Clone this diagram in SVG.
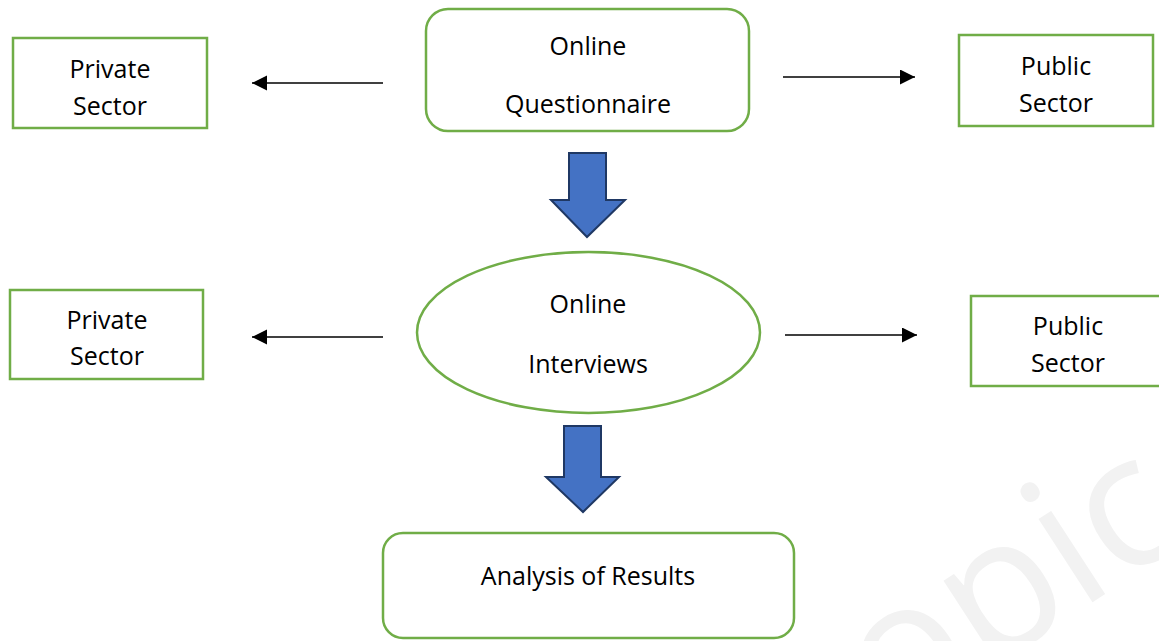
<svg xmlns="http://www.w3.org/2000/svg" width="1159" height="641" viewBox="0 0 1159 641">
<style>
.box{fill:#ffffff;stroke:#70ad47;stroke-width:2.5}
.lbl{font-family:"Open Sans","Liberation Sans",sans-serif;font-size:25px;fill:#000000;text-anchor:middle}
.conn{stroke:#000000;stroke-width:1.4;fill:none}
.big{fill:#4472c4;stroke:#1f3864;stroke-width:2;stroke-linejoin:miter}
.wm{font-family:"Open Sans","Liberation Sans",sans-serif;font-size:185px;fill:#f2f2f2}
</style>
<defs>
<marker id="ah" markerUnits="userSpaceOnUse" markerWidth="16" markerHeight="16" refX="15" refY="7.5" orient="auto">
<path d="M0,0 L15,7.5 L0,15 Z" fill="#000000"/>
</marker>
</defs>
<rect width="1159" height="641" fill="#ffffff"/>
<text class="wm" transform="translate(891,733) rotate(-33)">opic</text>

<g id="connectors">
<line class="conn" x1="383" y1="83" x2="252" y2="83" marker-end="url(#ah)"/>
<line class="conn" x1="783" y1="77" x2="915" y2="77" marker-end="url(#ah)"/>
<line class="conn" x1="383" y1="337" x2="252" y2="337" marker-end="url(#ah)"/>
<line class="conn" x1="785" y1="335" x2="917" y2="335" marker-end="url(#ah)"/>
<path class="big" d="M569,153 L606,153 L606,200 L625,200 L587,237 L551,200 L569,200 Z"/>
<path class="big" d="M564,426 L601,426 L601,477 L619,477 L583,512 L546,477 L564,477 Z"/>
</g>

<g id="node-private-1">
<rect class="box" x="13" y="38" width="194" height="90"/>
<text class="lbl" x="110" y="78">Private</text>
<text class="lbl" x="110" y="115">Sector</text>
</g>

<g id="node-questionnaire">
<rect class="box" x="426" y="9" width="323" height="122" rx="22" ry="22"/>
<text class="lbl" x="588" y="55">Online</text>
<text class="lbl" x="588" y="113">Questionnaire</text>
</g>

<g id="node-public-1">
<rect class="box" x="959" y="35" width="194" height="91"/>
<text class="lbl" x="1056" y="75">Public</text>
<text class="lbl" x="1056" y="112">Sector</text>
</g>

<g id="node-private-2">
<rect class="box" x="10" y="290" width="193" height="89"/>
<text class="lbl" x="107" y="329">Private</text>
<text class="lbl" x="107" y="365">Sector</text>
</g>

<g id="node-interviews">
<ellipse class="box" cx="588.5" cy="332.5" rx="171.5" ry="80.5"/>
<text class="lbl" x="588" y="313">Online</text>
<text class="lbl" x="588" y="373">Interviews</text>
</g>

<g id="node-public-2">
<rect class="box" x="971" y="296" width="194" height="90"/>
<text class="lbl" x="1068" y="335">Public</text>
<text class="lbl" x="1068" y="372">Sector</text>
</g>

<g id="node-analysis">
<rect class="box" x="383" y="533" width="411" height="105" rx="20" ry="20"/>
<text class="lbl" x="588" y="585">Analysis of Results</text>
</g>
</svg>
